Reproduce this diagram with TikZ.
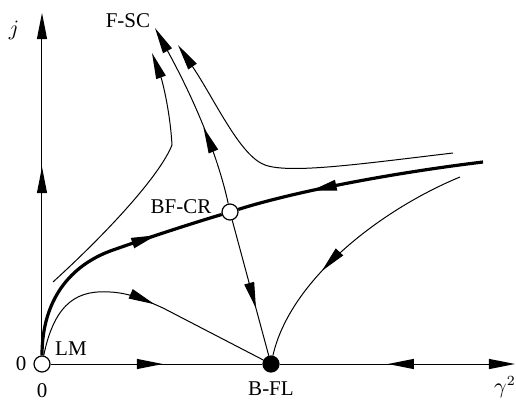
\documentclass[tikz,border=0pt]{standalone}
\usepackage{fontspec}
\setmainfont{Liberation Serif}
\usetikzlibrary{arrows.meta,decorations.markings}
\begin{document}
\begin{tikzpicture}[x=0.5pt,y=-0.5pt,
				every node/.style={font=\fontsize{10.5}{12}\selectfont},
				fixedpt/.style={circle,draw,line width=0.6pt,minimum size=8pt,inner sep=0pt},
				flow/.style={line width=0.5pt},
				sepline/.style={line width=1.6pt},
				tip/.style={-{Triangle[length=13pt,width=5pt]}},
				arrowat/.style={postaction={decorate},decoration={markings,
					mark=at position #1 with {\arrow{Triangle[length=13pt,width=5pt]}}}},
				backarrowat/.style={postaction={decorate},decoration={markings,
					mark=at position #1 with {\arrowreversed{Triangle[length=13pt,width=5pt]}}}}]
\useasboundingbox (0,0) rectangle (516,403);
% fixed points
\node[fixedpt,fill=white] (lm) at (42,364) {};
\node[fixedpt,fill=black] (bfl) at (271,364) {};
\node[fixedpt,fill=white] (bfcr) at (230,212) {};
\coordinate (xend) at (515,364);
\coordinate (yend) at (42,13);
\coordinate (fsc) at (155,28);
\coordinate (sepend) at (483,162);
% labels
\node (lbl0a) at (21,364) {0};
\node (lbl0b) at (42,391) {0};
\node (lbllm) at (71,349) {LM};
\node (lblbfl) at (271,389) {B-FL};
\node (lblbfcr) at (181,207) {BF-CR};
\node (lblfsc) at (128,21) {F-SC};
\node (lblj) at (14,30) {$j$};
\node (lblg) at (505,387) {$\gamma^2$};
% axes
\draw[flow,arrowat=0.53] (lm) -- (bfl);
\draw[flow,tip,backarrowat=0.46] (bfl) -- (xend);
\draw[flow,tip,arrowat=0.55] (lm) -- (yend);
% separatrix
\draw[sepline,arrowat=0.73] (lm) .. controls (42,300) and (70,265) .. (113,250)
	.. controls (150,237) and (190,224) .. (bfcr);
\draw[sepline,arrowat=0.70] (sepend) .. controls (400,172) and (300,190) .. (bfcr);
% trajectories through BF-CR
\draw[flow,arrowat=0.65] (bfcr) -- (bfl);
\draw[flow,tip,arrowat=0.42] (bfcr) .. controls (220,165) and (200,110) .. (fsc);
% other flows
\draw[flow,tip] (453,153) .. controls (360,164) and (290,174) .. (265,165)
	.. controls (240,156) and (215,100) .. (178,45);
\draw[flow,tip] (53,282) .. controls (110,230) and (160,175) .. (172,145)
	.. controls (170,110) and (162,80) .. (152,53);
\draw[flow,arrowat=0.63] (460,177) .. controls (380,210) and (290,280) .. (bfl);
\draw[flow,arrowat=0.55] (lm) .. controls (55,300) and (80,290) .. (110,292)
	.. controls (130,293) and (145,300) .. (163,308) -- (bfl);
\end{tikzpicture}
\end{document}
